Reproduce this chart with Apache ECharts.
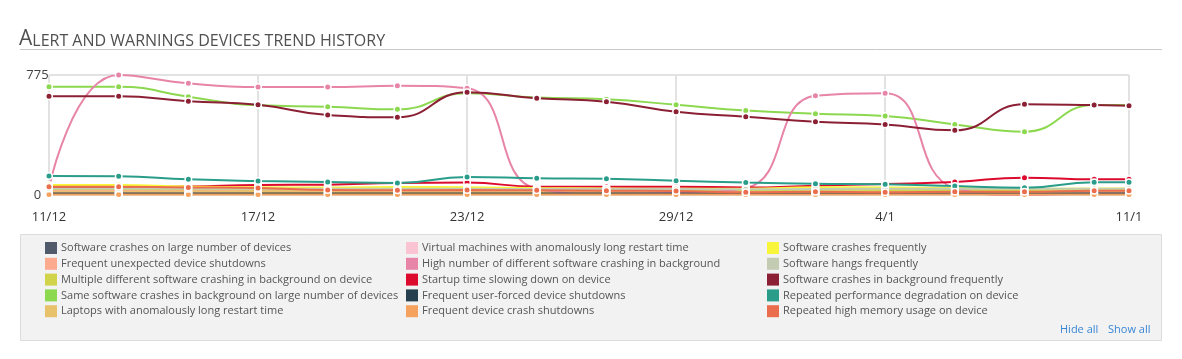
<!DOCTYPE html>
<html>
<head>
<meta charset="utf-8">
<script src="https://cdn.jsdelivr.net/npm/echarts@6/dist/echarts.min.js"></script>
<style>
html,body{margin:0;padding:0;background:#fff;}
#chart{width:1182px;height:359px;}
</style>
</head>
<body>
<div id="chart"></div>
<script>
// x positions: days since 11/12
const days = [0, 2, 4, 6, 8, 10, 12, 14, 16, 18, 20, 22, 24, 26, 28, 30, 31];
const tickDays = [0, 6, 12, 18, 24, 31];
const tickLabels = ["11/12", "17/12", "23/12", "29/12", "4/1", "11/1"];
const yTicks = [0, 775];

const seriesNames = [
  "Software crashes on large number of devices",
  "Frequent unexpected device shutdowns",
  "Multiple different software crashing in background on device",
  "Same software crashes in background on large number of devices",
  "Laptops with anomalously long restart time",
  "Virtual machines with anomalously long restart time",
  "High number of different software crashing in background",
  "Startup time slowing down on device",
  "Frequent user-forced device shutdowns",
  "Frequent device crash shutdowns",
  "Software crashes frequently",
  "Software hangs frequently",
  "Software crashes in background frequently",
  "Repeated performance degradation on device",
  "Repeated high memory usage on device"
];
const seriesColors = [
  "#515a6b", "#fdaa8e", "#d1d44a", "#8cd84f", "#e8c26a",
  "#fbc4d3", "#e784a8", "#dc0a2d", "#26404f", "#f4a25e",
  "#f8f53a", "#c4cbb3", "#8b2035", "#2a9d8a", "#ea6e4d"
];

const swCrashesLarge   = [12, 12, 11, 11, 12, 12, 13, 12, 12, 11, 11, 12, 12, 12, 11, 12, 12];
const unexpectedShut   = [28, 28, 27, 26, 25, 25, 24, 24, 24, 23, 22, 22, 22, 22, 22, 22, 22];
const multipleBg       = [38, 38, 37, 36, 35, 36, 35, 34, 33, 33, 32, 34, 33, 33, 33, 34, 34];
const sameSwBg         = [699, 699, 635, 579, 570, 553, 657, 630, 618, 583, 545, 525, 510, 456, 409, 581, 581];
const laptopsRestart   = [20, 20, 19, 19, 18, 18, 18, 17, 17, 17, 16, 17, 17, 17, 17, 18, 18];
const vmRestart        = [8, 8, 8, 7, 7, 7, 7, 7, 7, 7, 7, 7, 7, 7, 7, 8, 8];
const highNumberBg     = [45, 775, 721, 697, 697, 706, 689, 40, 8, 15, 45, 641, 657, 45, 0, 10, 10];
const startupSlow      = [50, 52, 55, 65, 67, 78, 80, 54, 54, 54, 48, 60, 71, 84, 112, 101, 101];
const userForcedShut   = [9, 9, 9, 9, 9, 9, 9, 9, 9, 9, 9, 9, 9, 9, 9, 9, 9];
const crashShut        = [4, 4, 3, 3, 4, 4, 4, 4, 4, 3, 3, 4, 4, 4, 4, 4, 4];
const swCrashesFreq    = [65, 65, 55, 50, 48, 52, 50, 45, 42, 40, 40, 50, 48, 45, 40, 42, 42];
const swHangsFreq      = [42, 42, 41, 40, 40, 41, 40, 39, 38, 38, 37, 39, 40, 40, 40, 41, 41];
const swCrashesBg      = [637, 637, 605, 583, 517, 502, 663, 625, 603, 538, 506, 473, 456, 418, 586, 581, 577];
const perfDegradation  = [123, 121, 101, 90, 84, 77, 116, 108, 105, 92, 80, 73, 69, 58, 47, 82, 82];
const highMemory       = [54, 53, 49, 45, 32, 30, 32, 30, 28, 26, 17, 21, 17, 21, 21, 28, 28];

const seriesValues = [
  swCrashesLarge, unexpectedShut, multipleBg, sameSwBg, laptopsRestart,
  vmRestart, highNumberBg, startupSlow, userForcedShut, crashShut,
  swCrashesFreq, swHangsFreq, swCrashesBg, perfDegradation, highMemory
];

const FONT = "'Open Sans', 'Noto Sans', sans-serif";

const chart = echarts.init(document.getElementById('chart'), null, {renderer: 'canvas'});

const series = seriesNames.map((name, i) => ({
  name: name,
  type: 'line',
  smooth: 0.5,
  clip: false,
  data: days.map((d, k) => [d, seriesValues[i][k]]),
  symbol: 'circle',
  symbolSize: 6.5,
  showSymbol: true,
  itemStyle: {color: seriesColors[i], borderColor: '#ffffff', borderWidth: 1.5},
  lineStyle: {color: seriesColors[i], width: 2},
  emphasis: {disabled: true},
  z: 2
}));

function legendCol(start, left) {
  return {
    orient: 'vertical',
    left: left,
    top: 242,
    padding: 0,
    itemWidth: 12,
    itemHeight: 12,
    itemGap: 3.8,
    icon: 'rect',
    selectedMode: false,
    data: seriesNames.slice(start, start + 5).map((n, j) => ({name: n, itemStyle: {color: seriesColors[start + j], borderWidth: 0}})),
    textStyle: {color: '#555', fontSize: 11, fontFamily: FONT, padding: [0, 0, 0, -1]}
  };
}

const option = {
  animation: false,
  backgroundColor: '#ffffff',
  title: {
    left: 19,
    top: 28,
    padding: 0,
    text: '{big|A}{small|LERT AND WARNINGS DEVICES TREND HISTORY}',
    textStyle: {
      fontWeight: 'normal',
      rich: {
        big: {fontSize: 21, color: '#505050', fontWeight: 'normal', fontFamily: FONT, verticalAlign: 'bottom', lineHeight: 22},
        small: {fontSize: 16, color: '#505050', fontWeight: 'normal', fontFamily: FONT, verticalAlign: 'bottom', lineHeight: 22, padding: [0, 0, 1, 0]}
      }
    }
  },
  graphic: [
    {type: 'line', shape: {x1: 20, y1: 49.5, x2: 1162, y2: 49.5}, style: {stroke: '#c8c8c8', lineWidth: 1}, z: 0},
    {type: 'rect', shape: {x: 20.5, y: 234.5, width: 1141, height: 106}, style: {fill: '#f2f2f2', stroke: '#dcdcdc', lineWidth: 1}, z: -1},
    {type: 'text', left: 1060, top: 324, style: {text: 'Hide all', fill: '#3a86d6', font: '11px ' + FONT}},
    {type: 'text', left: 1108, top: 324, style: {text: 'Show all', fill: '#3a86d6', font: '11px ' + FONT}}
  ],
  grid: {left: 49, right: 53, top: 75, bottom: 164, containLabel: false},
  xAxis: {
    type: 'value',
    min: tickDays[0],
    max: tickDays[tickDays.length - 1],
    axisLine: {show: false},
    axisTick: {show: false, customValues: tickDays},
    axisLabel: {
      customValues: tickDays,
      margin: 16,
      color: '#333',
      fontSize: 13,
      fontFamily: FONT,
      formatter: v => tickLabels[tickDays.indexOf(v)] || ''
    },
    splitLine: {show: true, lineStyle: {color: '#e2e2e2', width: 2}}
  },
  yAxis: {
    type: 'value',
    min: yTicks[0],
    max: yTicks[1],
    interval: yTicks[1] - yTicks[0],
    axisLine: {show: false},
    axisTick: {show: false},
    axisLabel: {margin: 11.5, align: 'center', color: '#444', fontSize: 13, fontFamily: FONT},
    splitLine: {show: true, lineStyle: {color: '#e2e2e2', width: 2}}
  },
  legend: [legendCol(0, 45), legendCol(5, 406), legendCol(10, 767)],
  series: series
};
chart.setOption(option);
</script>
</body>
</html>
